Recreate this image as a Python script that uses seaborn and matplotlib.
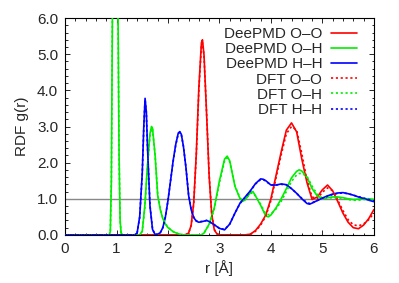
import numpy as np
import pandas as pd
import seaborn as sns
import matplotlib.pyplot as plt
from matplotlib.ticker import AutoMinorLocator, FormatStrFormatter

# radial distribution functions
r_oo = [0.0, 2.30, 2.35, 2.40, 2.45, 2.50, 2.55, 2.60, 2.65, 2.67, 2.70, 2.75, 2.80, 2.85,
        2.90, 2.95, 3.00, 3.50, 3.60, 3.70, 3.80, 3.90, 4.00, 4.10, 4.20, 4.30, 4.40, 4.50,
        4.60, 4.70, 4.80, 4.90, 5.00, 5.10, 5.20, 5.30, 5.40, 5.50, 5.60, 5.70, 5.80, 5.90, 6.00]
g_oo_dp = [0.0, 0.0, 0.01, 0.05, 0.26, 0.89, 2.25, 4.08, 5.32, 5.40, 4.98, 3.35, 1.62, 0.56,
           0.14, 0.03, 0.0, 0.0, 0.02, 0.12, 0.30, 0.55, 1.00, 1.65, 2.30, 2.90, 3.10, 2.85,
           2.10, 1.45, 0.98, 1.05, 1.25, 1.38, 1.22, 0.92, 0.60, 0.35, 0.20, 0.17, 0.27, 0.45, 0.70]
g_oo_dft = [0.0, 0.0, 0.01, 0.05, 0.25, 0.86, 2.20, 4.00, 5.25, 5.32, 4.95, 3.38, 1.66, 0.58,
            0.15, 0.03, 0.0, 0.0, 0.01, 0.10, 0.27, 0.52, 0.95, 1.58, 2.22, 2.80, 3.00, 2.90,
            2.25, 1.52, 1.05, 1.00, 1.18, 1.30, 1.22, 0.96, 0.67, 0.42, 0.28, 0.25, 0.30, 0.42, 0.60]

r_oh = [0.0, 0.86, 0.88, 0.90, 0.92, 0.94, 0.97, 1.00, 1.03, 1.05, 1.07, 1.09, 1.12,
        1.45, 1.50, 1.55, 1.60, 1.65, 1.68, 1.70, 1.75, 1.80, 1.85, 1.90, 1.95, 2.00, 2.10,
        2.20, 2.30, 2.65, 2.70, 2.80, 2.90, 3.00, 3.10, 3.15, 3.20, 3.30, 3.40, 3.45, 3.50,
        3.60, 3.65, 3.70, 3.80, 3.90, 3.95, 4.00, 4.10, 4.20, 4.30, 4.40, 4.50, 4.55, 4.60,
        4.70, 4.80, 4.90, 5.00, 5.10, 5.20, 5.30, 5.40, 5.50, 5.60, 5.70, 5.80, 5.90, 6.00]
g_oh_dp = [0.0, 0.0, 0.1, 1.5, 6.0, 11.0, 14.0, 11.5, 6.0, 2.2, 0.4, 0.05, 0.0,
           0.0, 0.1, 0.8, 1.9, 2.8, 3.0, 2.95, 2.2, 1.1, 0.7, 0.45, 0.3, 0.2, 0.09,
           0.03, 0.0, 0.0, 0.05, 0.3, 0.75, 1.5, 2.1, 2.18, 2.05, 1.35, 1.0, 0.93, 0.97,
           1.17, 1.20, 1.08, 0.82, 0.52, 0.50, 0.55, 0.75, 1.0, 1.28, 1.58, 1.76, 1.80, 1.77,
           1.60, 1.28, 1.08, 1.01, 1.03, 1.05, 1.05, 1.03, 1.0, 0.98, 0.99, 1.0, 1.0, 0.98]
g_oh_dft = [0.0, 0.0, 0.1, 1.5, 6.0, 11.0, 14.0, 11.5, 6.0, 2.2, 0.4, 0.05, 0.0,
            0.0, 0.1, 0.75, 1.85, 2.75, 2.95, 2.92, 2.2, 1.12, 0.72, 0.46, 0.31, 0.21, 0.09,
            0.03, 0.0, 0.0, 0.05, 0.28, 0.72, 1.45, 2.05, 2.13, 2.02, 1.36, 1.02, 0.95, 0.98,
            1.15, 1.16, 1.08, 0.85, 0.58, 0.56, 0.58, 0.72, 0.93, 1.20, 1.48, 1.66, 1.70, 1.70,
            1.62, 1.35, 1.12, 1.02, 1.02, 1.03, 1.03, 1.01, 0.98, 0.96, 0.96, 0.98, 0.98, 0.97]

r_hh = [0.0, 1.35, 1.40, 1.45, 1.50, 1.53, 1.555, 1.58, 1.60, 1.65, 1.70, 1.75,
        1.80, 1.85, 1.90, 1.95, 2.00, 2.05, 2.10, 2.15, 2.20, 2.23, 2.26, 2.30, 2.35, 2.40, 2.45,
        2.50, 2.55, 2.60, 2.70, 2.75, 2.80, 2.90, 3.00, 3.10, 3.20,
        3.30, 3.40, 3.50, 3.60, 3.70, 3.80, 3.85, 3.90, 4.00, 4.10,
        4.20, 4.30, 4.40, 4.50, 4.60, 4.70, 4.75, 4.80, 4.90, 5.00,
        5.10, 5.20, 5.30, 5.40, 5.50, 5.60, 5.70, 5.80, 5.90, 6.00]
g_hh_dp = [0.0, 0.0, 0.05, 0.5, 1.7, 3.0, 3.78, 3.4, 2.5, 0.8, 0.15, 0.01,
           0.02, 0.06, 0.2, 0.5, 0.95, 1.5, 2.05, 2.5, 2.82, 2.86, 2.78, 2.45, 1.85, 1.1, 0.7,
           0.48, 0.38, 0.35, 0.38, 0.40, 0.37, 0.28, 0.18, 0.14, 0.30,
           0.60, 0.88, 1.05, 1.22, 1.42, 1.55, 1.54, 1.50, 1.38, 1.38,
           1.41, 1.39, 1.28, 1.15, 1.00, 0.87, 0.85, 0.88, 0.95, 1.02,
           1.08, 1.13, 1.16, 1.17, 1.14, 1.10, 1.05, 1.01, 0.96, 0.92]
g_hh_dft = [0.0, 0.0, 0.05, 0.48, 1.68, 2.98, 3.75, 3.38, 2.5, 0.82, 0.16, 0.01,
            0.02, 0.06, 0.2, 0.5, 0.95, 1.5, 2.03, 2.48, 2.80, 2.84, 2.77, 2.45, 1.86, 1.12, 0.72,
            0.49, 0.39, 0.36, 0.38, 0.40, 0.37, 0.28, 0.18, 0.15, 0.30,
            0.60, 0.87, 1.04, 1.21, 1.41, 1.53, 1.53, 1.49, 1.38, 1.38,
            1.40, 1.38, 1.28, 1.15, 1.01, 0.89, 0.87, 0.89, 0.95, 1.02,
            1.07, 1.12, 1.15, 1.16, 1.14, 1.10, 1.06, 1.02, 0.98, 0.94]

labels = ['DeePMD O–O', 'DeePMD O–H', 'DeePMD H–H', 'DFT O–O', 'DFT O–H', 'DFT H–H']
colors = ['#ff0000', '#00ee00', '#0000ff']

sns.set_style('ticks', {'xtick.direction': 'in', 'ytick.direction': 'in'})
plt.rcParams['font.family'] = ['Liberation Sans', 'DejaVu Sans']
plt.rcParams['font.size'] = 11

fig, ax = plt.subplots(figsize=(3.99, 2.83), dpi=100)
fig.subplots_adjust(left=0.163, right=0.937, bottom=0.170, top=0.936)

ax.axhline(1.0, color='#888888', lw=1.0, zorder=1)

series = [(r_oo, g_oo_dp), (r_oh, g_oh_dp), (r_hh, g_hh_dp),
          (r_oo, g_oo_dft), (r_oh, g_oh_dft), (r_hh, g_hh_dft)]
for i, (r, g) in enumerate(series):
    df = pd.DataFrame({'r': r, 'g': g})
    ls = '-' if i < 3 else (0, (1.3, 1.6))
    sns.lineplot(data=df, x='r', y='g', ax=ax, color=colors[i % 3], lw=1.2,
                 linestyle=ls, label=labels[i], zorder=2 + i)

ax.set_xlim(0, 6)
ax.set_ylim(0, 6)
ax.set_xticks(range(7))
ax.set_yticks(range(7))
ax.yaxis.set_major_formatter(FormatStrFormatter('%.1f'))
ax.xaxis.set_minor_locator(AutoMinorLocator(5))
ax.yaxis.set_minor_locator(AutoMinorLocator(5))
ax.tick_params(which='both', direction='in', top=True, right=True, labelsize=11, width=0.7)
ax.tick_params(which='major', length=3.3, pad=5)
ax.tick_params(which='minor', length=1.8)
for s in ax.spines.values():
    s.set_linewidth(0.8)
    s.set_color('black')

ax.set_xlabel('r [Å]', fontsize=11, labelpad=3)
ax.set_ylabel('RDF g(r)', fontsize=11, labelpad=6)

ax.legend(loc='upper right', bbox_to_anchor=(0.981, 1.009), frameon=False,
          markerfirst=False, fontsize=11, handlelength=1.7, handletextpad=0.6,
          labelspacing=0.08, borderaxespad=0.3, borderpad=0.4)

fig.savefig('out.png', dpi=100)
